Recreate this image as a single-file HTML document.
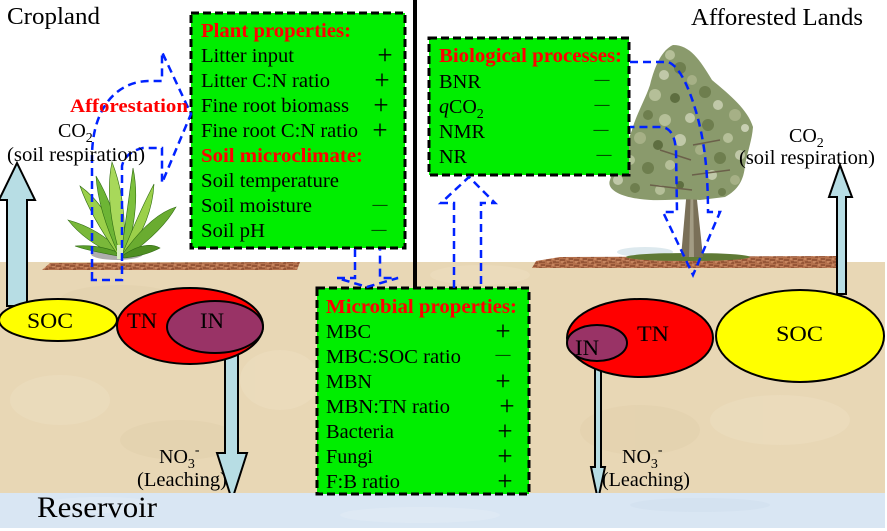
<!DOCTYPE html>
<html><head><meta charset="utf-8"><style>
html,body{margin:0;padding:0;background:#fff;width:887px;height:531px;overflow:hidden}
svg{display:block}
text{font-family:"Liberation Serif",serif;fill:#000}
.t{font-size:20px}
.h{font-size:20px;font-weight:bold;fill:#f00}
.pl{font-size:27px}
.mn{font-size:15px}
</style></head><body>
<svg width="887" height="531" viewBox="0 0 887 531" xmlns="http://www.w3.org/2000/svg">
<defs>
<pattern id="lit" width="14" height="6" patternUnits="userSpaceOnUse">
<rect width="14" height="6" fill="#b3704c"/>
<path d="M0 2 h5 M7 4 h6 M3 5 h3 M9 1 h4" stroke="#7a3c22" stroke-width="1"/>
<path d="M1 4 h3 M6 1 h2 M10 3 h3" stroke="#d99a72" stroke-width="1"/>
</pattern>
</defs>
<rect x="0" y="0" width="887" height="531" fill="#fff"/>
<!-- soil -->
<rect x="0" y="262" width="885" height="232" fill="#e8d7b5"/>
<g opacity="0.25">
<ellipse cx="60" cy="400" rx="50" ry="25" fill="#f2e7cf"/>
<ellipse cx="180" cy="440" rx="60" ry="20" fill="#dcc8a2"/>
<ellipse cx="280" cy="380" rx="40" ry="30" fill="#f2e7cf"/>
<ellipse cx="640" cy="430" rx="60" ry="25" fill="#dcc8a2"/>
<ellipse cx="780" cy="420" rx="70" ry="25" fill="#f2e7cf"/>
<ellipse cx="480" cy="275" rx="50" ry="10" fill="#f2e7cf"/>
<ellipse cx="120" cy="300" rx="60" ry="15" fill="#dcc8a2"/>
</g>
<!-- litter -->
<path d="M42 270 L50 263 L300 262 L297 270 Z" fill="url(#lit)"/>
<path d="M532 268 L536 261 L560 257 L840 256 L840 268 Z" fill="url(#lit)"/>

<!-- plant -->
<ellipse cx="117" cy="254" rx="26" ry="6" fill="#9a9a9a" opacity="0.8"/>
<g stroke="#2f6b12" stroke-width="0.6">
<path d="M118 256 Q 85 242 68 220 Q 98 228 122 252 Z" fill="#7ab83a"/>
<path d="M118 256 Q 85 250 75 246 Q 100 244 122 254 Z" fill="#5a9e2a"/>
<path d="M118 255 Q 90 215 80 186 Q 108 206 122 250 Z" fill="#9bd04a"/>
<path d="M119 255 Q 98 210 96 176 Q 114 205 123 252 Z" fill="#6db535"/>
<path d="M120 255 Q 104 200 112 162 Q 127 200 124 252 Z" fill="#a8d85a"/>
<path d="M121 255 Q 128 205 133 168 Q 141 205 126 255 Z" fill="#7cc03c"/>
<path d="M122 255 Q 140 210 154 184 Q 152 222 126 256 Z" fill="#9bd04a"/>
<path d="M122 255 Q 150 215 176 207 Q 162 232 126 257 Z" fill="#6aac30"/>
<path d="M122 256 Q 145 240 160 248 Q 145 256 124 258 Z" fill="#4f8f22"/>
</g>
<rect x="117" y="245" width="6" height="14" fill="#d8eec0"/>

<!-- tree -->
<ellipse cx="645" cy="252" rx="28" ry="5" fill="#dde9ee"/>
<ellipse cx="688" cy="257" rx="62" ry="4" fill="#5f7a35"/>
<path d="M681 257 L703 257 L697 200 L694 150 L689 150 L686 200 Z" fill="#7a7058"/>
<path d="M689 257 L694 257 L693 180 L691 180 Z" fill="#a39c84"/>
<path d="M673 45 C690 45 700 60 712 80 C730 95 748 110 753 127 C752 140 748 150 745 165 C744 180 738 190 725 197 L700 200 C680 198 660 202 640 199 C622 197 606 190 610 180 C615 165 625 150 632 130 C636 115 645 100 650 85 C655 65 662 50 673 45 Z" fill="#8a9a6c"/>
<g>
<circle cx="670" cy="55" r="5" fill="#b5bf98"/>
<circle cx="680" cy="68" r="6" fill="#6e7e4e"/>
<circle cx="664" cy="75" r="5" fill="#c0c8a8"/>
<circle cx="692" cy="80" r="5" fill="#a6b086"/>
<circle cx="705" cy="92" r="6" fill="#6e7e4e"/>
<circle cx="655" cy="95" r="6" fill="#b5bf98"/>
<circle cx="675" cy="98" r="5" fill="#5e6e40"/>
<circle cx="718" cy="105" r="5" fill="#c0c8a8"/>
<circle cx="735" cy="115" r="6" fill="#a6b086"/>
<circle cx="745" cy="128" r="4" fill="#c8cfb3"/>
<circle cx="648" cy="115" r="5" fill="#6e7e4e"/>
<circle cx="665" cy="120" r="6" fill="#b5bf98"/>
<circle cx="690" cy="118" r="5" fill="#c0c8a8"/>
<circle cx="708" cy="125" r="6" fill="#6e7e4e"/>
<circle cx="728" cy="138" r="5" fill="#b5bf98"/>
<circle cx="640" cy="138" r="6" fill="#a6b086"/>
<circle cx="658" cy="145" r="5" fill="#5e6e40"/>
<circle cx="680" cy="140" r="6" fill="#c0c8a8"/>
<circle cx="700" cy="150" r="5" fill="#a6b086"/>
<circle cx="720" cy="158" r="6" fill="#6e7e4e"/>
<circle cx="740" cy="155" r="5" fill="#c0c8a8"/>
<circle cx="630" cy="160" r="5" fill="#b5bf98"/>
<circle cx="648" cy="168" r="6" fill="#6e7e4e"/>
<circle cx="670" cy="165" r="5" fill="#b5bf98"/>
<circle cx="712" cy="175" r="5" fill="#c0c8a8"/>
<circle cx="735" cy="180" r="5" fill="#a6b086"/>
<circle cx="618" cy="180" r="5" fill="#c0c8a8"/>
<circle cx="635" cy="188" r="5" fill="#6e7e4e"/>
<circle cx="660" cy="190" r="5" fill="#b5bf98"/>
<circle cx="722" cy="192" r="4" fill="#6e7e4e"/>
<circle cx="680" cy="185" r="4" fill="#5e6e40"/>
</g>
<path d="M692 190 L650 185 M692 175 L730 170 M691 160 L660 150 M693 145 L720 140" stroke="#6b604a" stroke-width="1.5" fill="none"/>

<!-- vertical black divider -->
<rect x="413" y="0" width="4" height="289" fill="#000"/>

<!-- cyan arrows -->
<g fill="#b7dde4" stroke="#000" stroke-width="2" stroke-linejoin="miter">
<path d="M7 306 L7 200 L-1 200 L17 163 L35 200 L27 200 L27 306 Z"/>
<path d="M837 294 L837 197 L829 197 L840 165 L852 197 L846 197 L846 294 Z"/>
<path d="M225 350 L225 453 L217 453 L232 500 L247 453 L238 453 L238 350 Z"/>
<path d="M595 358 L595 467 L591 467 L598 500 L605 467 L601 467 L601 358 Z"/>
</g>

<!-- reservoir -->
<rect x="0" y="493" width="885" height="35" fill="#d9e6f3"/>
<g opacity="0.3">
<ellipse cx="100" cy="505" rx="60" ry="8" fill="#eaf2fa"/>
<ellipse cx="420" cy="515" rx="80" ry="8" fill="#eaf2fa"/>
<ellipse cx="700" cy="505" rx="70" ry="7" fill="#c9d9ea"/>
</g>

<!-- ellipses -->
<g stroke="#000" stroke-width="2">
<ellipse cx="58" cy="320" rx="59" ry="21" fill="#ffff00"/>
<ellipse cx="190" cy="326" rx="73" ry="38" fill="#ff0000"/>
<ellipse cx="215" cy="327" rx="48" ry="26" fill="#993366"/>
<ellipse cx="640" cy="338" rx="73" ry="39" fill="#ff0000"/>
<ellipse cx="597" cy="343" rx="30" ry="18" fill="#993366"/>
<ellipse cx="800" cy="336" rx="84" ry="46" fill="#ffff00"/>
</g>
<text x="27" y="328" font-size="22" textLength="46" lengthAdjust="spacingAndGlyphs">SOC</text>
<text x="127" y="328" font-size="22" textLength="30" lengthAdjust="spacingAndGlyphs">TN</text>
<text x="200" y="328" font-size="22" textLength="24" lengthAdjust="spacingAndGlyphs">IN</text>
<text x="637" y="341" font-size="22" textLength="32" lengthAdjust="spacingAndGlyphs">TN</text>
<text x="575" y="355" font-size="22" textLength="24" lengthAdjust="spacingAndGlyphs">IN</text>
<text x="776" y="341" font-size="22" textLength="47" lengthAdjust="spacingAndGlyphs">SOC</text>

<!-- boxes -->
<g stroke="#000" stroke-width="3" stroke-dasharray="8 4" fill="#00ee00">
<rect x="191" y="13" width="214" height="235"/>
<rect x="429" y="38" width="200" height="137"/>
<rect x="317" y="288" width="212" height="206"/>
</g>

<!-- blue dashed arrows -->
<g fill="none" stroke="#0022ff" stroke-width="2.5" stroke-dasharray="8 5" stroke-linejoin="miter">
<path d="M92 280 L92 157 C92 110 115 82 148 81 L162 81 L162 52 L191 114 L162 183 L162 148 L143 148 C133 150 124 156 122 166 L122 280 Z"/>
<path d="M355 249 L355 278 L337 278 L367 287 L398 278 L380 278 L380 249"/>
<path d="M454 288 L454 203 L441 203 L469 177 L495 203 L481 203 L481 288"/>
<path d="M630 62 L668 62 C680 66 690 90 697 115 C704 140 708 170 708 212 L720 212 L693 275 L663 212 L677 212 L676 150 C675 137 671 127 660 127 L630 127"/>
</g>

<!-- plant properties text -->
<text class="h" x="201" y="37" textLength="150" lengthAdjust="spacingAndGlyphs">Plant properties:</text>
<text class="t" x="201" y="62" textLength="93" lengthAdjust="spacingAndGlyphs">Litter input</text>
<text class="t" x="201" y="87" textLength="129" lengthAdjust="spacingAndGlyphs">Litter C:N ratio</text>
<text class="t" x="201" y="112" textLength="148" lengthAdjust="spacingAndGlyphs">Fine root biomass</text>
<text class="t" x="201" y="137" textLength="157" lengthAdjust="spacingAndGlyphs">Fine root C:N ratio</text>
<text class="h" x="201" y="162" textLength="162" lengthAdjust="spacingAndGlyphs">Soil microclimate:</text>
<text class="t" x="201" y="187" textLength="138" lengthAdjust="spacingAndGlyphs">Soil temperature</text>
<text class="t" x="201" y="212" textLength="111" lengthAdjust="spacingAndGlyphs">Soil moisture</text>
<text class="t" x="201" y="237" textLength="64" lengthAdjust="spacingAndGlyphs">Soil pH</text>
<text class="pl" x="385" y="64" text-anchor="middle">+</text>
<text class="pl" x="382" y="89" text-anchor="middle">+</text>
<text class="pl" x="381" y="114" text-anchor="middle">+</text>
<text class="pl" x="380" y="139" text-anchor="middle">+</text>
<text class="mn" x="380" y="209" text-anchor="middle">—</text>
<text class="mn" x="379" y="234" text-anchor="middle">—</text>

<!-- biological processes text -->
<text class="h" x="439" y="62" textLength="183" lengthAdjust="spacingAndGlyphs">Biological processes:</text>
<text class="t" x="439" y="88" textLength="42" lengthAdjust="spacingAndGlyphs">BNR</text>
<text class="t" x="439" y="113"><tspan font-style="italic">q</tspan>CO<tspan font-size="14" dy="5">2</tspan></text>
<text class="t" x="439" y="138" textLength="46" lengthAdjust="spacingAndGlyphs">NMR</text>
<text class="t" x="439" y="163" textLength="28" lengthAdjust="spacingAndGlyphs">NR</text>
<text class="mn" x="602" y="84" text-anchor="middle">—</text>
<text class="mn" x="602" y="109" text-anchor="middle">—</text>
<text class="mn" x="601" y="134" text-anchor="middle">—</text>
<text class="mn" x="604" y="159" text-anchor="middle">—</text>

<!-- microbial properties text -->
<text class="h" x="326" y="313" textLength="191" lengthAdjust="spacingAndGlyphs">Microbial properties:</text>
<text class="t" x="326" y="338" textLength="45" lengthAdjust="spacingAndGlyphs">MBC</text>
<text class="t" x="326" y="363" textLength="135" lengthAdjust="spacingAndGlyphs">MBC:SOC ratio</text>
<text class="t" x="326" y="388" textLength="46" lengthAdjust="spacingAndGlyphs">MBN</text>
<text class="t" x="326" y="413" textLength="124" lengthAdjust="spacingAndGlyphs">MBN:TN ratio</text>
<text class="t" x="326" y="438" textLength="68" lengthAdjust="spacingAndGlyphs">Bacteria</text>
<text class="t" x="326" y="463" textLength="47" lengthAdjust="spacingAndGlyphs">Fungi</text>
<text class="t" x="326" y="488" textLength="74" lengthAdjust="spacingAndGlyphs">F:B ratio</text>
<text class="pl" x="503" y="340" text-anchor="middle">+</text>
<text class="mn" x="503" y="359" text-anchor="middle">—</text>
<text class="pl" x="503" y="390" text-anchor="middle">+</text>
<text class="pl" x="507" y="415" text-anchor="middle">+</text>
<text class="pl" x="505" y="440" text-anchor="middle">+</text>
<text class="pl" x="505" y="465" text-anchor="middle">+</text>
<text class="pl" x="505" y="490" text-anchor="middle">+</text>

<!-- labels -->
<text x="7" y="24" font-size="24" textLength="93" lengthAdjust="spacingAndGlyphs">Cropland</text>
<text x="691" y="25" font-size="24" textLength="172" lengthAdjust="spacingAndGlyphs">Afforested Lands</text>
<text x="70" y="112" font-size="19" font-weight="bold" style="fill:#f00" textLength="118" lengthAdjust="spacingAndGlyphs">Afforestation</text>
<text class="t" x="58" y="137">CO<tspan font-size="14" dy="5">2</tspan></text>
<text class="t" x="7" y="161" textLength="138" lengthAdjust="spacingAndGlyphs">(soil respiration)</text>
<text class="t" x="789" y="142">CO<tspan font-size="14" dy="5">2</tspan></text>
<text class="t" x="739" y="164" textLength="136" lengthAdjust="spacingAndGlyphs">(soil respiration)</text>
<text class="t" x="159" y="463">NO<tspan font-size="14" dy="5">3</tspan><tspan font-size="14" dy="-14">-</tspan></text>
<text class="t" x="137" y="486" textLength="90" lengthAdjust="spacingAndGlyphs">(Leaching)</text>
<text class="t" x="622" y="463">NO<tspan font-size="14" dy="5">3</tspan><tspan font-size="14" dy="-14">-</tspan></text>
<text class="t" x="602" y="486" textLength="88" lengthAdjust="spacingAndGlyphs">(Leaching)</text>
<text x="37" y="517" font-size="30" textLength="120" lengthAdjust="spacingAndGlyphs">Reservoir</text>
</svg>
</body></html>
